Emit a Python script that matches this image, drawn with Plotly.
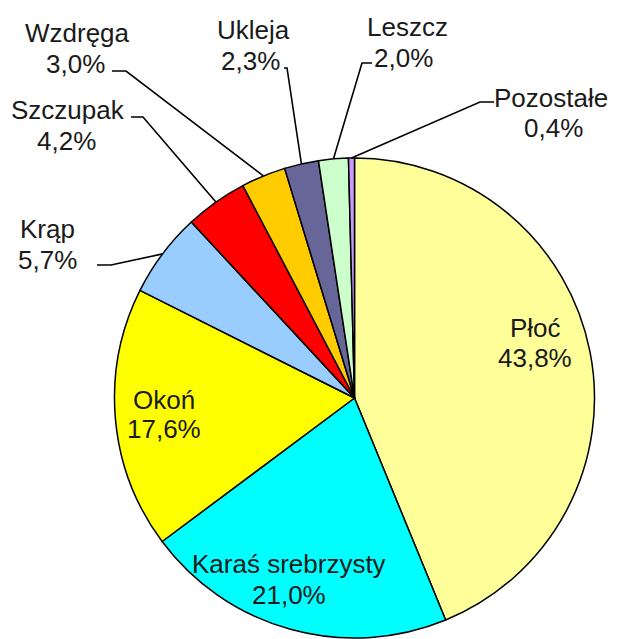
import math
import plotly.graph_objects as go

# ---- data ----
species = ["Płoć", "Karaś srebrzysty", "Okoń", "Krąp", "Szczupak",
           "Wzdręga", "Ukleja", "Leszcz", "Pozostałe"]
shares = [43.8, 21.0, 17.6, 5.7, 4.2, 3.0, 2.3, 2.0, 0.4]
colors = ["#FFFF99", "#00FFFF", "#FFFF00", "#99CCFF", "#FF0000",
          "#FFCC00", "#666699", "#CCFFCC", "#CC99FF"]

# ---- layout geometry (pixels, as seen in the page) ----
W, H = 618, 639
OFF = 8  # page body margin
CX, CY, R = 354.5, 398.0, 240.0
FONT = dict(family="Liberation Sans, Arial, sans-serif", size=26, color="#1a1a1a")

# (name centre, percent centre, leader (start, elbow) or None)
label_pos = {
    "Płoć": ((535, 328), (535, 358), None),
    "Karaś srebrzysty": ((289, 564), (289, 595), None),
    "Okoń": ((164, 400), (164, 429), None),
    "Krąp": ((47, 229), (47, 260), ((97, 265), (111, 265))),
    "Szczupak": ((68, 110), (66, 141), ((131, 117), (143, 117))),
    "Wzdręga": ((77, 33), (75, 64), ((112, 71), (126, 71))),
    "Ukleja": ((253, 30), (250, 61), ((284, 68), (287, 68))),
    "Leszcz": ((407, 27), (403, 58), ((372, 63), (362, 63))),
    "Pozostałe": ((551, 98), (553, 128), ((494, 102), (480, 102))),
}

def px(x):
    return (x - OFF) / W

def py(y):
    return 1 - (y - OFF) / H

fig = go.Figure(go.Pie(
    labels=species,
    values=shares,
    sort=False,
    direction="clockwise",
    rotation=0,
    marker=dict(colors=colors, line=dict(color="#000000", width=1.5)),
    textinfo="none",
    hoverinfo="label+percent",
    showlegend=False,
    domain=dict(x=[px(CX - R), px(CX + R)], y=[py(CY + R), py(CY - R)]),
))

annotations = []
shapes = []
total = sum(shares)
cum = 0.0
for name, v in zip(species, shares):
    mid = (cum + v / 2) / total * 2 * math.pi
    cum += v
    (nx, ny), (qx, qy), leader = label_pos[name]
    pct = f"{v:.1f}".replace(".", ",") + "%"
    for txt, (ax, ay) in ((name, (nx, ny)), (pct, (qx, qy))):
        annotations.append(dict(
            x=px(ax), y=py(ay), xref="paper", yref="paper",
            text=txt, showarrow=False,
            xanchor="center", yanchor="middle", font=FONT,
        ))
    if leader:
        ex = CX + R * math.sin(mid)
        ey = CY - R * math.cos(mid)
        (sx, sy), (bx, by) = leader
        path = (f"M {px(sx)} {py(sy)} L {px(bx)} {py(by)} "
                f"L {px(ex)} {py(ey)}")
        shapes.append(dict(type="path", path=path, xref="paper", yref="paper",
                           line=dict(color="#000000", width=1.6)))

fig.update_layout(
    width=W, height=H,
    margin=dict(l=0, r=0, t=0, b=0),
    paper_bgcolor="white", plot_bgcolor="white",
    annotations=annotations, shapes=shapes,
)

fig.write_html("out.html")
